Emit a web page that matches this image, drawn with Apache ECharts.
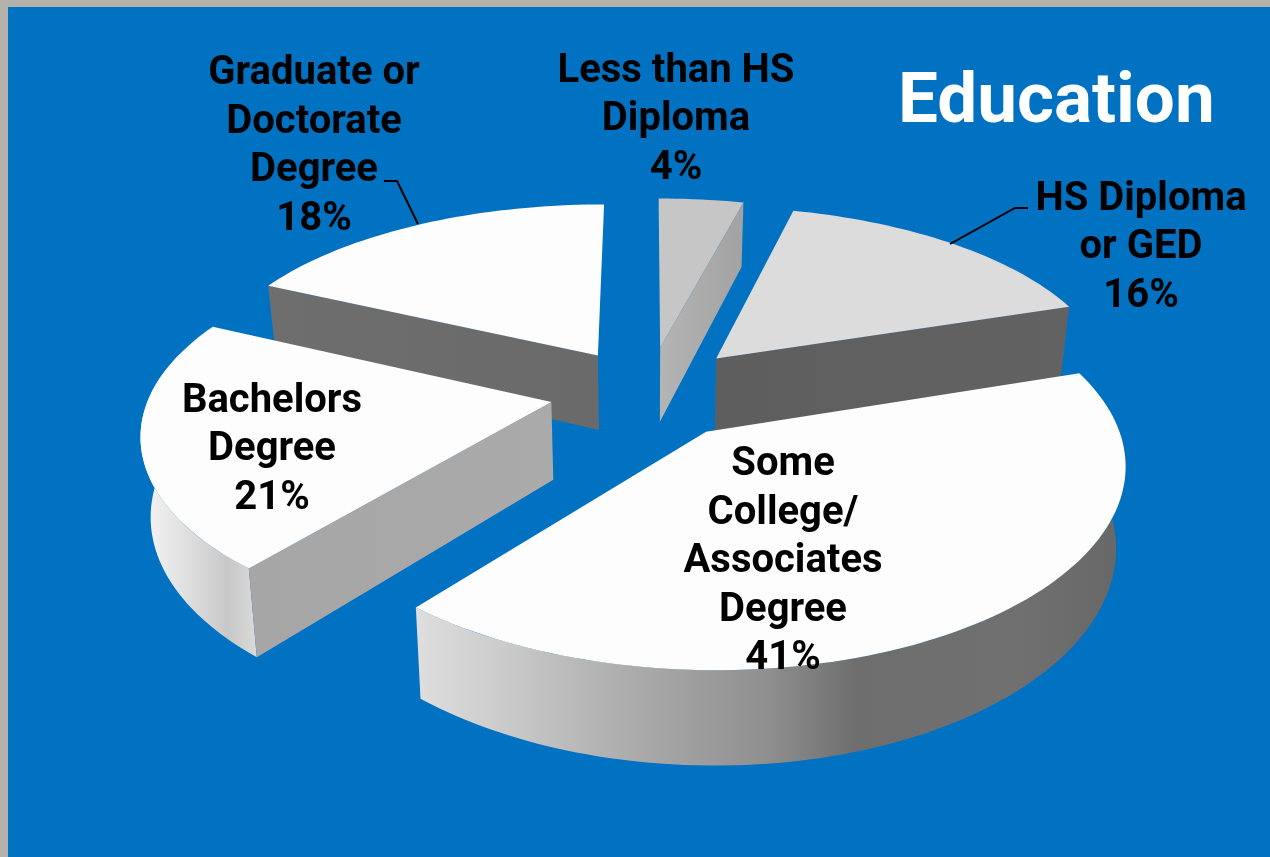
<!DOCTYPE html>
<html>
<head>
<meta charset="utf-8">
<style>html,body{margin:0;padding:0;background:#b4b0aa}#chart{width:1270px;height:857px}</style>
<script src="https://cdn.jsdelivr.net/npm/echarts@6/dist/echarts.min.js"></script>
</head>
<body>
<div id="chart"></div>
<script>
// Education attainment shares, clockwise from twelve o'clock
const categories = ['Less than HS\nDiploma', 'HS Diploma\nor GED', 'Some\nCollege/\nAssociates\nDegree', 'Bachelors\nDegree', 'Graduate or\nDoctorate\nDegree'];
const shares = [4, 16, 41, 21, 18];

// Per-slice appearance and placement
const explode = [0.25, 0.255, 0.25, 0.245, 0.24];
const paintOrder = [1, 2, 4, 3, 0];
const topFill = ['#c6c6c6', '#dcdcdc', '#fdfdfd', '#fdfdfd', '#fdfdfd'];
const cutFill = [
  { edge: 'end', stops: ['#b4b4b4', '#a2a2a2'] },
  { edge: 'end', stops: ['#5e5e5e', '#626262'] },
  null,
  { edge: 'start', stops: ['#a6a6a6', '#aaaaaa'] },
  { edge: 'start', stops: ['#6e6e6e', '#6a6a6a'] }
];
const wallStops = [null, null,
  [[0, '#dedede'], [0.1, '#cfcfcf'], [0.3, '#acacac'], [0.5, '#8e8e8e'], [0.62, '#6e6e6e'], [0.85, '#707070'], [1, '#676767']],
  [[0, '#f6f6f6'], [0.35, '#e2e2e2'], [0.75, '#c8c8c8'], [1, '#dadada']],
  null, null];
const labelAnchor = [[676, 120], [1141, 248], [783, 562], [272, 450], [314, 147]];
const leaders = { 1: [[950, 244], [1015, 208], [1028, 208]], 4: [[418, 224], [397, 181], [384, 181]] };

// Camera used to lay the disc on its side
const view = { cx: 648, cy: 392, ax: 401, kx: 0.145, by: 186, k: 0.16, depth: 77, shrink: 0.98 };
const total = shares.reduce((a, b) => a + b, 0);
const RAD = Math.PI / 180;
const labelFont = 'bold 40px Roboto, "Liberation Sans", sans-serif';

function project(u, v, lower) {
  const w = 1 / (1 + view.k * v);
  let x = view.cx + view.ax * u / (1 + view.kx * v);
  let y = view.cy - view.by * v * w;
  if (lower) {
    x = view.cx + (x - view.cx) * view.shrink;
    y += view.depth * w;
  }
  return [x, y];
}

function rimPoints(ox, oy, from, to, lower) {
  const pts = [];
  const steps = Math.max(2, Math.ceil((to - from) / 1.5));
  for (let i = 0; i <= steps; i++) {
    const a = (from + (to - from) * i / steps) * RAD;
    pts.push(project(ox + Math.sin(a), oy + Math.cos(a), lower));
  }
  return pts;
}

function renderSlice(params, api) {
  const i = params.dataIndex;
  const before = shares.slice(0, i).reduce((a, b) => a + b, 0);
  const start = before / total * 360;
  const end = start + api.value(0) / total * 360;
  const mid = (start + end) / 2 * RAD;
  const ox = Math.sin(mid) * explode[i];
  const oy = Math.cos(mid) * explode[i];
  const base = paintOrder[i] * 10;
  const children = [];

  // Outer wall, only for the arc that faces the viewer
  const wallFrom = Math.max(start, 85);
  const wallTo = Math.min(end, 285);
  if (wallStops[i] && wallTo > wallFrom) {
    const pts = rimPoints(ox, oy, wallFrom, wallTo, false)
      .concat(rimPoints(ox, oy, wallFrom, wallTo, true).reverse());
    children.push({
      type: 'polygon', z2: base, shape: { points: pts },
      style: {
        fill: new echarts.graphic.LinearGradient(0, 0, 1, 0,
          wallStops[i].map(s => ({ offset: s[0], color: s[1] })))
      }
    });
  }

  // Radial cut face
  const cut = cutFill[i];
  if (cut) {
    const a = (cut.edge === 'end' ? end : start) * RAD;
    const rimU = ox + Math.sin(a);
    const rimV = oy + Math.cos(a);
    children.push({
      type: 'polygon', z2: base + 1,
      shape: { points: [project(ox, oy, false), project(rimU, rimV, false), project(rimU, rimV, true), project(ox, oy, true)] },
      style: {
        fill: new echarts.graphic.LinearGradient(0, 0, 1, 0,
          [{ offset: 0, color: cut.stops[0] }, { offset: 1, color: cut.stops[1] }])
      }
    });
  }

  // Top surface
  children.push({
    type: 'polygon', z2: base + 2,
    shape: { points: [project(ox, oy, false)].concat(rimPoints(ox, oy, start, end, false)) },
    style: { fill: topFill[i] }
  });

  // Leader line and data label
  if (leaders[i]) {
    children.push({
      type: 'polyline', z2: 100, shape: { points: leaders[i] },
      style: { fill: null, stroke: '#000', lineWidth: 2 }
    });
  }
  children.push({
    type: 'text', z2: 101, x: labelAnchor[i][0], y: labelAnchor[i][1],
    style: {
      text: categories[i] + '\n' + api.value(0) + '%',
      fill: '#000', align: 'center', verticalAlign: 'middle',
      font: labelFont, lineHeight: 48.5
    }
  });
  return { type: 'group', children: children };
}

const chart = echarts.init(document.getElementById('chart'), null, { renderer: 'canvas' });
chart.setOption({
  animation: false,
  backgroundColor: '#b4b0aa',
  title: {
    text: 'Education', left: 893, top: 64,
    textStyle: { color: '#fff', fontFamily: 'Roboto, "Liberation Sans", sans-serif', fontWeight: 'bold', fontSize: 71 }
  },
  graphic: [{
    type: 'rect', z: -1, silent: true,
    shape: { x: 8, y: 7, width: 1262, height: 850 },
    style: { fill: '#0171c2' }
  }],
  series: [{
    type: 'custom',
    coordinateSystem: 'none',
    renderItem: renderSlice,
    data: shares.map(v => [v]),
    silent: true
  }]
});
</script>
</body>
</html>
